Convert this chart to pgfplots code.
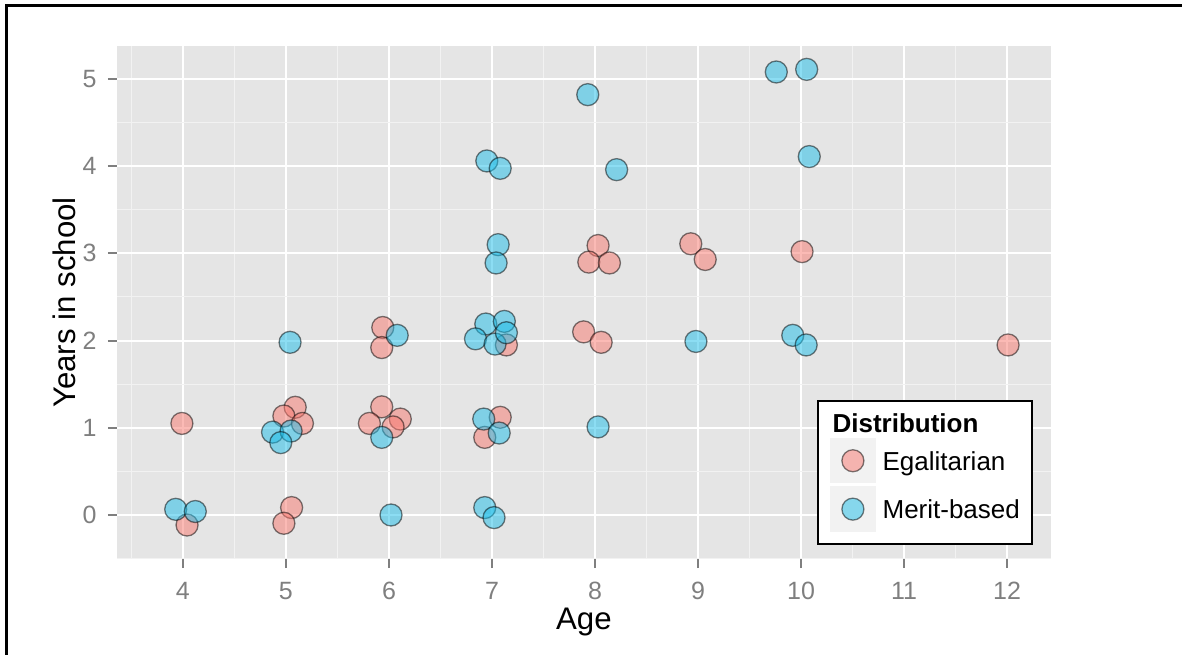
\documentclass[border=0pt]{standalone}
\usepackage{pgfplots}
\pgfplotsset{compat=1.18}
\usepackage{fontspec}
\setmainfont{Liberation Sans}

\definecolor{panelgray}{HTML}{E5E5E5}
\definecolor{minorgray}{HTML}{F2F2F2}
\definecolor{tickgray}{HTML}{7F7F7F}
\definecolor{keygray}{HTML}{F2F2F2}
\definecolor{egal}{HTML}{F8766D}
\definecolor{merit}{HTML}{1BBDE8}

\begin{document}
\begin{tikzpicture}
\useasboundingbox (0,0) rectangle (591bp,327.5bp);
% frame of the figure (left and top edges only)
\draw[line width=1.5bp] (3.25bp,-2bp) -- (3.25bp,324.5bp) -- (594bp,324.5bp);
\begin{axis}[
    at={(58.5bp,48bp)}, anchor=south west,
    scale only axis,
    width=466.85bp, height=256.5bp,
    xmin=3.36, xmax=12.424,
    ymin=-0.5046, ymax=5.378,
    xtick={4,...,12}, ytick={0,...,5},
    minor xtick={3.5,4.5,...,12.5},
    minor ytick={-0.5,0.5,...,5.5},
    grid=both,
    major grid style={white, line width=1bp},
    minor grid style={minorgray, line width=0.5bp},
    axis background/.style={fill=panelgray},
    axis line style={draw=none},
    tick pos=left,
    tick align=outside,
    major tick length=4.5bp,
    minor tick length=0pt,
    tick style={tickgray, line width=1bp},
    /pgf/number format/assume math mode=true,
    tick label style={font=\fontsize{12.5bp}{14bp}\selectfont, text=tickgray},
    xticklabel style={inner sep=0pt, anchor=north, yshift=-7bp},
    yticklabel style={inner sep=0pt, anchor=east, xshift=-5.5bp},
    xlabel={Age},
    ylabel={Years in school},
    label style={font=\fontsize{15.6bp}{18bp}\selectfont},
    xlabel style={at={(axis description cs:0.5,-0.1384)}, anchor=base},
    ylabel style={at={(axis description cs:-0.0444,0.5)}, anchor=base},
    legend style={at={(0.7497,0.3099)}, anchor=north west,
        draw=black, line width=1.2bp, fill=white,
        inner xsep=6bp, inner ysep=6bp,
        row sep=1.5bp, column sep=3.5bp,
        font=\fontsize{13bp}{15bp}\selectfont,
        cells={anchor=base west},
        nodes={inner sep=0pt}},
    legend image code/.code={
        \fill[keygray, yshift=4.65bp] (-10.75bp,-10.75bp) rectangle (10.75bp,10.75bp);
        \draw[#1, yshift=4.65bp] plot coordinates {(0bp,0bp)};
    },
]
\addlegendimage{empty legend}
\addlegendentry{\hspace*{-25bp}\textbf{Distribution}\rule[-5.5bp]{0pt}{5.5bp}}

\addplot[only marks, mark=*, mark size=5.5bp,
    mark options={fill=egal, fill opacity=0.5, draw=black, draw opacity=0.5, line width=0.65bp}]
    coordinates {
    (3.99,1.05) (4.04,-0.115)
    (5.09,1.235) (4.98,1.135) (5.16,1.05) (5.055,0.085) (4.98,-0.095)
    (5.93,1.24) (5.81,1.05) (6.11,1.10) (6.04,1.01) (5.94,2.15) (5.93,1.92)
    (7.14,1.95) (7.08,1.12) (6.93,0.89)
    (8.03,3.09) (7.94,2.90) (8.14,2.89) (7.89,2.10) (8.06,1.98)
    (8.93,3.11) (9.07,2.93) (10.01,3.02) (12.01,1.95)
    };
\addlegendentry{Egalitarian}

\addplot[only marks, mark=*, mark size=5.5bp,
    mark options={fill=merit, fill opacity=0.5, draw=black, draw opacity=0.5, line width=0.65bp}]
    coordinates {
    (3.93,0.065) (4.12,0.04)
    (4.87,0.95) (5.05,0.963) (4.95,0.83) (5.04,1.98)
    (5.93,0.89) (6.02,0.0) (6.08,2.06)
    (6.94,2.19) (7.12,2.22) (6.84,2.02) (7.03,1.96) (7.14,2.09)
    (6.92,1.10) (7.07,0.94) (6.93,0.085) (7.02,-0.03)
    (6.95,4.06) (7.08,3.975) (7.06,3.10) (7.04,2.89)
    (7.93,4.82) (8.21,3.96) (8.03,1.01) (8.98,1.99)
    (9.76,5.08) (10.055,5.11) (10.08,4.11) (9.92,2.06) (10.05,1.95)
    };
\addlegendentry{Merit-based}
\end{axis}
\end{tikzpicture}
\end{document}
